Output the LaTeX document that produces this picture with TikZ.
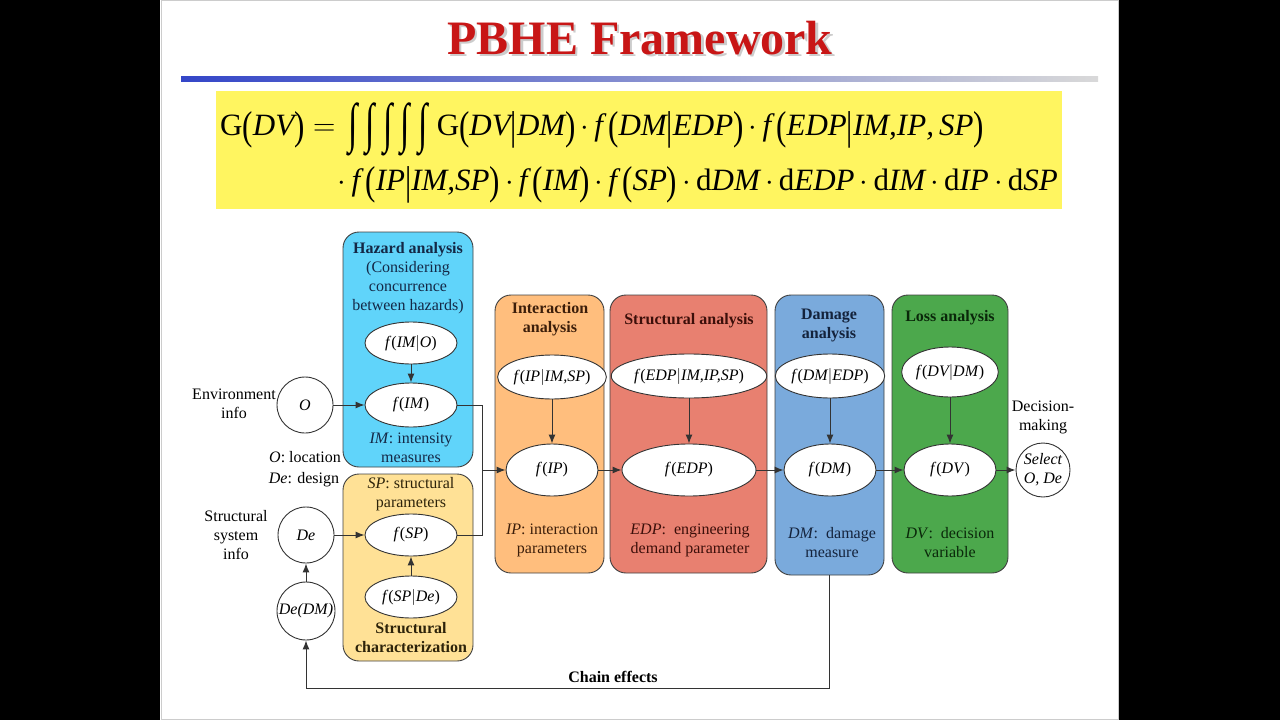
\documentclass[tikz,border=0pt]{standalone}
\usepackage{fix-cm}
\usepackage{fontspec}
\setmainfont{Liberation Serif}
\usetikzlibrary{arrows.meta,positioning,shapes.geometric,calc}

\definecolor{titred}{RGB}{200,22,22}
\definecolor{eqyel}{RGB}{255,245,96}
\definecolor{hazc}{RGB}{96,212,250}
\definecolor{schc}{RGB}{255,225,150}
\definecolor{intc}{RGB}{255,190,125}
\definecolor{strc}{RGB}{232,128,112}
\definecolor{damc}{RGB}{122,170,220}
\definecolor{lossc}{RGB}{76,168,76}
\definecolor{hazt}{RGB}{20,40,70}
\definecolor{scht}{RGB}{45,35,10}
\definecolor{intt}{RGB}{60,30,10}
\definecolor{strt}{RGB}{60,15,10}
\definecolor{damt}{RGB}{20,35,60}
\definecolor{losst}{RGB}{10,40,10}

\newcommand{\bodyfont}{\fontsize{16}{19}\selectfont}
\newcommand{\mi}[1]{\textit{#1}}
\newcommand{\fx}[1]{f\textup{(}#1\textup{)}}
\newcommand{\dt}{\mskip3mu{\cdot}\mskip3mu}
\newcommand{\cm}{\mbox{\textit{,}}}
\newcommand{\lp}{\mbox{\raisebox{-4pt}{\scalebox{1}[1.3]{(}}}}
\newcommand{\rp}{\mbox{\raisebox{-4pt}{\scalebox{1}[1.3]{)}}}}
\newcommand{\br}{\mbox{\raisebox{-4pt}{\scalebox{1}[1.3]{|}}}}
\newcommand{\oneint}{\makebox[17.5pt]{\raisebox{-6pt}{\scalebox{1.1}[1.75]{∫}}}}
\newcommand{\ints}{\mbox{\oneint\oneint\oneint\oneint\oneint}}

\tikzset{
  >={Latex[length=9pt,width=7pt]},
  panel/.style={draw=black!75, line width=0.9pt, rounded corners=16pt, fill=#1, inner sep=0pt},
  fn/.style={draw=black!80, line width=0.9pt, ellipse, fill=white, inner sep=0pt,
    minimum width=92pt, minimum height=44pt, font=\bodyfont\itshape},
  st/.style={draw=black!80, line width=0.9pt, circle, fill=white, inner sep=0pt,
    minimum size=56pt, align=center, font=\bodyfont\itshape},
  lbl/.style={align=center, font=\bodyfont, inner sep=0pt},
  eqn/.style={inner sep=0pt, font=\fontsize{31}{37}\selectfont},
  flow/.style={->, draw=black!80, line width=1pt},
}

\begin{document}
\begin{tikzpicture}[x=1pt, y=-1pt]
  \useasboundingbox (0,0) rectangle (1280,720);
  \fill[black] (0,0) rectangle (160,720);
  \fill[black] (1119,0) rectangle (1280,720);
  \draw[gray!40, line width=0.8pt] (161,0.5) rectangle (1118,719.5);
  % title and bar
  \node[font=\fontsize{48}{56}\selectfont\bfseries, text=gray!40] (titsh) at (642.5,40.5) {PBHE Framework};
  \node[font=\fontsize{48}{56}\selectfont\bfseries, text=titred] (title) at (640,38) {PBHE Framework};
  \shade[left color={rgb,255:red,52;green,70;blue,200}, right color=gray!30] (181,76) rectangle (1098,81);
  % formula
  \node[fill=eqyel, minimum width=846pt, minimum height=118pt, inner sep=0pt] (eqbg) at (639,150) {};
  \node[eqn, anchor=base west] (eq1) at (220,135)
    {$\textrm{G}\lp\mi{DV}\rp=\ints\,\textrm{G}\lp\mi{DV}\br\mi{DM}\rp\dt\mi{f}\,\lp\mi{DM}\br\mi{EDP}\rp\dt\mi{f}\,\lp\mi{EDP}\br\mi{IM}\cm\mi{IP}\cm\,\mi{SP}\rp$};
  \node[eqn, anchor=base east] (eq2) at (1058,190)
    {${}\dt\mi{f}\,\lp\mi{IP}\br\mi{IM}\cm\mi{SP}\rp\dt\mi{f}\,\lp\mi{IM}\rp\dt\mi{f}\,\lp\mi{SP}\rp\dt\textrm{d}\mi{DM}\dt\textrm{d}\mi{EDP}\dt\textrm{d}\mi{IM}\dt\textrm{d}\mi{IP}\dt\textrm{d}\mi{SP}$};
  % panels
  \node[panel=hazc, minimum width=130pt, minimum height=235pt] (haz) at (408,349.5) {};
  \node[panel=schc, minimum width=130pt, minimum height=187pt] (sch) at (408,567.5) {};
  \node[panel=intc, minimum width=109pt, minimum height=278pt] (inter) at (549.5,434) {};
  \node[panel=strc, minimum width=157pt, minimum height=278pt] (stra) at (688.5,434) {};
  \node[panel=damc, minimum width=109pt, minimum height=280pt] (dama) at (829.5,435) {};
  \node[panel=lossc, minimum width=116pt, minimum height=278pt] (loss) at (950,434) {};
  % panel texts
  \node[lbl, text=hazt] (hazt) at (408,278) {\textbf{Hazard analysis}\\(Considering\\concurrence\\between hazards)};
  \node[lbl, text=hazt] (imt) at (411,448) {\mi{IM}: intensity\\measures};
  \node[lbl, text=scht] (spt) at (411,494) {\mi{SP}: structural\\parameters};
  \node[lbl, text=scht] (scht) at (411,638) {\textbf{Structural}\\\textbf{characterization}};
  \node[lbl, text=intt] (intt) at (550,319) {\textbf{Interaction}\\\textbf{analysis}};
  \node[lbl, text=intt] (ipt) at (552,540) {\mi{IP}: interaction\\parameters};
  \node[lbl, text=strt] (strt) at (689,321) {\textbf{Structural analysis}};
  \node[lbl, text=strt] (edpt) at (690,540) {\mi{EDP}:\ \ engineering\\demand parameter};
  \node[lbl, text=damt] (damt) at (829,325) {\textbf{Damage}\\\textbf{analysis}};
  \node[lbl, text=damt] (dmt) at (832,543) {\mi{DM}:\ \ damage\\measure};
  \node[lbl, text=losst] (losst) at (950,318) {\textbf{Loss analysis}};
  \node[lbl, text=losst] (dvt) at (950,543) {\mi{DV}:\ \ decision\\variable};
  % functions
  \node[fn, minimum height=42pt] (fimo) at (411,343) {\fx{IM$|$O}};
  \node[fn] (fim) at (411,405) {\fx{IM}};
  \node[fn, minimum height=42pt] (fsp) at (411,535) {\fx{SP}};
  \node[fn, minimum height=42pt] (fspde) at (411,597) {\fx{SP$|$De}};
  \node[fn] (fipc) at (552,377) {\fx{IP$|$IM,SP}};
  \node[fn, minimum height=52pt] (fip) at (552,470) {\fx{IP}};
  \node[fn, minimum width=122pt] (fedpc) at (689,376) {\fx{EDP$|$IM,IP,SP}};
  \node[fn, minimum width=134pt, minimum height=52pt] (fedp) at (689,470) {\fx{EDP}};
  \node[fn] (fdmc) at (830,376) {\fx{DM$|$EDP}};
  \node[fn, minimum height=52pt] (fdm) at (830,470) {\fx{DM}};
  \node[fn, minimum height=50pt] (fdvc) at (950,372) {\fx{DV$|$DM}};
  \node[fn, minimum height=52pt] (fdv) at (950,470) {\fx{DV}};
  % inputs and output
  \node[st] (o) at (305,405) {O};
  \node[st] (de) at (306,535) {De};
  \node[st, minimum size=58pt] (dedm) at (306,611) {De(DM)};
  \node[st, minimum size=54pt] (sel) at (1043,470) {Select\\O, De};
  \node[lbl] (envt) at (234,404) {Environment\\info};
  \node[lbl] (sstt) at (236,535) {Structural\\system\\info};
  \node[lbl] (loct) at (305,457) {\mi{O}: location};
  \node[lbl] (dest) at (304,480) {\mi{De}: design};
  \node[lbl] (dect) at (1043,417) {Decision-\\making};
  \node[lbl, font=\bodyfont\bfseries] (chnt) at (613,677) {Chain effects};
  % connectors
  \coordinate (jn) at (482,470);
  \coordinate (chn) at ($(dama.south)+(0,113)$);
  \draw[flow] (o) -- (fim);
  \draw[flow] (de) -- (fsp);
  \draw[flow] (dedm) -- (de);
  \draw[flow] (fimo) -- (fim);
  \draw[flow] (fspde) -- (fsp);
  \draw[draw=black!80, line width=1pt] (fim.east) -| (jn);
  \draw[draw=black!80, line width=1pt] (fsp.east) -| (jn);
  \draw[flow] (jn) -- (fip);
  \draw[flow] (fipc) -- (fip);
  \draw[flow] (fedpc) -- (fedp);
  \draw[flow] (fdmc) -- (fdm);
  \draw[flow] (fdvc) -- (fdv);
  \draw[flow] (fip) -- (fedp);
  \draw[flow] (fedp) -- (fdm);
  \draw[flow] (fdm) -- (fdv);
  \draw[flow] (fdv) -- (sel);
  \draw[flow] (dama.south) -- (chn) -| (dedm.south);
\end{tikzpicture}
\end{document}
